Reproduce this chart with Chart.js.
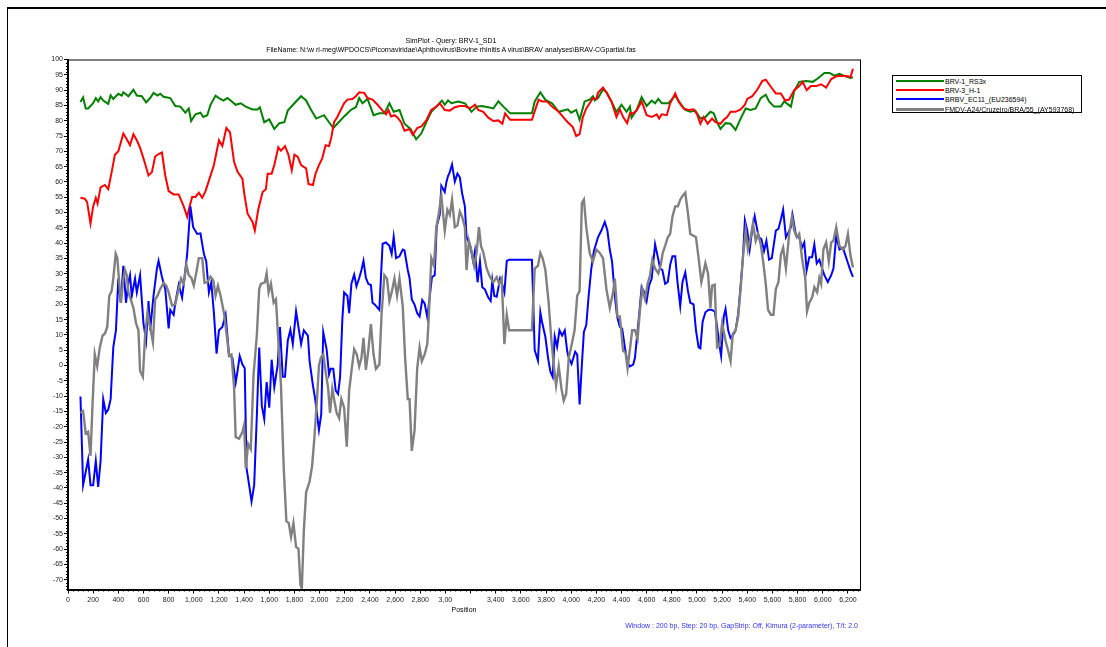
<!DOCTYPE html>
<html>
<head>
<meta charset="utf-8">
<title>SimPlot - Query: BRV-1_SD1</title>
<script src="https://cdn.jsdelivr.net/npm/chart.js@4.4.1/dist/chart.umd.min.js"></script>
<style>
  body { margin: 0; background: #fff; font-family: "Liberation Sans", Arial, sans-serif; }
  #wrap { position: relative; width: 1106px; height: 647px; overflow: hidden; background: #fff; }
  #frame { position: absolute; left: 7px; top: 7px; width: 1120px; height: 660px; border-top: 2px solid #000; border-left: 1px solid #000; }
  #chart { position: absolute; left: 0; top: 0; }
  .txt { position: absolute; white-space: nowrap; font-size: 7px; line-height: 8px; color: #000; }
  .mid { transform: translateX(-50%); }
  #legend { position: absolute; left: 892px; top: 75px; width: 190px; height: 38px; border: 1px solid #000; box-sizing: border-box; background: #fff; }
  .row { position: absolute; left: 0; height: 9px; width: 188px; }
  .row i { position: absolute; left: 3px; top: 3px; width: 48px; height: 2px; }
  .row span { position: absolute; left: 52px; top: 0; font-size: 7px; line-height: 9px; color: #000; white-space: nowrap; }
</style>
</head>
<body>
<div id="wrap">
  <div id="frame"></div>
  <canvas id="chart" width="1106" height="647"></canvas>
  <div class="txt mid" style="left:451px; top:37px;">SimPlot - Query: BRV-1_SD1</div>
  <div class="txt mid" style="left:451px; top:46px;">FileName: N:\w rl-meg\WPDOCS\Picornaviridae\Aphthovirus\Bovine rhinitis A virus\BRAV analyses\BRAV-CGpartial.fas</div>
  <div class="txt mid" style="left:464px; top:606px;">Position</div>
  <div class="txt" style="right:248px; top:622px; color:#3333ff;">Window : 200 bp, Step: 20 bp, GapStrip: Off, Kimura (2-parameter), T/t: 2.0</div>
  <div id="legend"></div>
</div>
<script>
// series names and colours (legend order)
const seriesNames = ['BRV-1_RS3x', 'BRV-3_H-1', 'BRBV_EC11_(EU236594)', 'FMDV-A24/Cruzeiro/BRA/55_(AY593768)'];
const seriesColors = ['#008000', '#ff0000', '#0000ff', '#808080'];

// BRV-1_RS3x
const rs3xPos = [99,120,141,160,200,221,240,259,280,320,339,360,400,427,440,480,520,547,587,621,653,680,712,733,760,813,853,893,933,960,979,1013,1053,1075,1107,1133,1173,1200,1235,1267,1293,1333,1373,1413,1467,1507,1525,1560,1600,1640,1680,1720,1747,1800,1853,1893,1933,1973,2035,2075,2109,2141,2195,2248,2288,2315,2341,2381,2429,2475,2515,2555,2589,2635,2675,2723,2768,2808,2848,2888,2928,2973,2995,3021,3048,3101,3155,3208,3248,3288,3341,3381,3421,3461,3515,3688,3710,3755,3795,3848,3901,3973,4000,4040,4067,4107,4147,4173,4187,4213,4253,4280,4320,4360,4400,4440,4467,4480,4520,4560,4600,4640,4667,4693,4720,4773,4827,4867,4907,4947,4987,5027,5067,5107,5133,5160,5187,5227,5267,5307,5347,5387,5427,5467,5507,5547,5573,5613,5667,5693,5747,5773,5813,5867,5920,5960,6013,6053,6093,6133,6180,6220,6240];
const rs3xSim = [86.1,87.6,84.0,84.0,85.7,87.4,86.3,87.7,86.6,85.5,88.3,87.1,88.8,88.2,89.3,88.0,90.1,88.2,88.0,86.0,87.4,89.1,88.2,88.8,87.8,87.4,84.8,84.6,82.6,84.0,79.9,82.1,82.6,81.2,81.8,85.2,88.2,87.4,86.6,87.4,86.6,85.2,85.7,84.6,83.7,83.7,84.4,79.5,80.4,77.3,79.2,79.5,83.3,85.7,88.0,86.6,83.5,80.7,81.8,79.5,77.6,79.0,81.4,83.5,84.4,87.4,85.7,87.1,81.8,82.4,82.4,85.7,82.9,83.5,79.0,77.3,73.9,75.8,79.5,82.9,84.6,86.6,85.2,86.6,85.7,86.3,85.7,82.9,84.6,84.8,84.4,84.0,86.3,84.6,82.4,82.4,86.3,89.3,86.8,85.7,82.9,83.7,82.6,83.5,80.3,86.3,86.9,88.0,86.6,87.4,90.2,89.3,86.3,82.9,85.2,82.9,84.6,81.0,83.5,87.7,84.8,86.6,85.7,87.1,85.7,85.7,88.2,85.7,83.5,82.9,83.3,80.7,81.2,82.9,82.4,79.5,77.3,79.2,79.0,77.0,80.7,84.0,83.5,84.0,87.4,88.5,86.3,84.6,84.6,86.3,84.6,89.7,92.7,93.0,92.7,93.8,95.6,95.6,94.7,95.3,94.5,94.0,94.2];

// BRV-3_H-1
const h1Pos = [99,133,152,179,200,221,235,259,293,320,347,373,400,440,467,493,520,547,573,600,640,667,693,720,747,773,800,840,880,920,947,960,987,1013,1040,1067,1093,1120,1160,1200,1227,1259,1288,1320,1347,1387,1400,1427,1467,1485,1512,1547,1573,1587,1619,1640,1672,1693,1725,1752,1779,1800,1827,1853,1893,1912,1947,1968,1995,2021,2048,2075,2093,2115,2141,2168,2195,2221,2261,2288,2315,2355,2381,2421,2461,2501,2528,2547,2568,2595,2621,2648,2675,2715,2741,2776,2808,2848,2888,2928,2955,2995,3035,3075,3115,3155,3195,3235,3261,3301,3341,3381,3421,3453,3475,3515,3688,3715,3741,3768,3808,3848,3901,3947,3973,4013,4040,4067,4093,4120,4147,4173,4200,4213,4253,4280,4320,4360,4387,4413,4445,4467,4493,4520,4560,4600,4640,4680,4699,4720,4760,4787,4827,4853,4893,4933,4973,5000,5027,5053,5085,5120,5147,5187,5213,5240,5267,5307,5347,5381,5400,5440,5480,5520,5547,5587,5627,5667,5701,5733,5773,5813,5840,5872,5907,5947,5987,6027,6067,6107,6155,6200,6220,6240];
const h1Sim = [54.8,54.5,53.4,46.4,52.0,54.8,52.9,58.2,59.0,57.6,63.2,68.9,70.0,75.8,73.9,72.0,75.6,73.6,71.1,67.7,62.1,63.2,68.3,69.1,69.6,62.1,57.0,55.9,55.9,52.0,48.6,50.9,55.1,55.1,56.5,54.8,57.0,60.4,65.5,73.6,71.7,77.6,76.2,66.6,63.4,61.0,56.5,49.7,46.9,44.1,50.9,56.7,57.6,62.7,62.7,65.5,71.3,70.2,71.7,68.9,63.8,68.9,68.2,65.5,64.4,59.3,59.0,62.7,65.5,67.7,72.0,71.7,74.5,79.5,81.2,83.5,85.7,86.9,87.1,88.0,89.3,89.1,87.4,86.9,85.2,83.3,82.1,83.5,81.4,81.8,81.0,79.5,76.7,77.3,75.4,77.6,78.1,80.1,83.5,84.6,85.7,83.5,83.3,84.4,84.8,84.8,84.0,85.2,83.5,82.9,81.0,79.9,80.1,79.0,82.4,80.3,80.3,83.7,86.9,86.3,86.3,84.6,82.9,80.7,79.5,77.9,75.0,75.6,81.2,84.0,85.7,87.4,87.1,89.1,90.8,89.3,86.3,81.2,83.7,81.2,79.2,82.4,82.4,83.3,86.3,81.8,81.2,82.1,80.7,82.1,81.8,85.7,88.9,86.3,84.0,83.5,83.7,82.1,79.0,81.2,79.0,80.7,79.5,79.0,80.3,81.2,82.9,82.9,83.7,85.2,87.1,88.0,90.2,93.0,93.4,91.1,88.9,88.9,86.6,86.9,90.0,91.3,92.7,90.0,91.3,91.3,91.9,90.8,93.6,94.5,94.7,94.5,94.2,97.0];

// BRBV_EC11_(EU236594)
const ec11Pos = [99,120,160,179,200,221,240,259,280,301,320,339,360,381,400,419,440,461,480,493,507,533,547,573,600,621,640,653,680,707,720,747,773,800,813,840,853,880,907,925,947,973,995,1027,1053,1080,1099,1120,1139,1160,1181,1200,1227,1253,1280,1307,1333,1347,1365,1387,1405,1419,1440,1459,1480,1501,1520,1541,1560,1579,1600,1619,1640,1667,1685,1707,1725,1747,1768,1787,1813,1832,1853,1875,1907,1920,1947,1965,1995,2013,2029,2056,2075,2088,2109,2128,2147,2163,2181,2195,2221,2235,2253,2275,2293,2315,2333,2349,2368,2387,2408,2421,2440,2475,2501,2528,2555,2573,2589,2608,2635,2661,2675,2701,2715,2733,2755,2776,2795,2816,2835,2856,2875,2893,2915,2931,2955,2968,2995,3008,3021,3035,3053,3075,3096,3115,3133,3155,3168,3195,3221,3235,3256,3275,3293,3315,3341,3360,3373,3389,3408,3435,3453,3469,3488,3507,3688,3710,3736,3755,3768,3795,3816,3835,3853,3869,3888,3907,3928,3949,3968,3981,4003,4032,4048,4067,4085,4101,4120,4139,4160,4181,4213,4240,4267,4288,4307,4325,4347,4365,4387,4405,4427,4448,4467,4493,4507,4539,4560,4581,4600,4619,4640,4667,4693,4707,4725,4747,4768,4787,4805,4827,4845,4867,4885,4907,4928,4947,4973,4992,5013,5027,5045,5067,5093,5115,5141,5160,5179,5192,5213,5227,5248,5267,5285,5307,5328,5347,5365,5381,5400,5419,5440,5459,5480,5493,5512,5533,5552,5573,5595,5627,5648,5667,5685,5707,5728,5747,5760,5787,5813,5835,5853,5872,5893,5915,5933,5952,5973,5995,6013,6040,6067,6085,6107,6133,6160,6180,6200,6220,6240];
const ec11Sim = [-10.1,-39.1,-30.7,-39.1,-39.1,-31.2,-39.7,-31.2,-11.0,-15.5,-14.4,-11.0,5.9,11.5,28.4,20.5,32.6,20.5,27.2,29.5,22.7,28.4,23.9,29.5,13.8,8.1,21.1,11.5,22.8,31.7,34.2,28.9,25.0,12.1,18.2,16.6,20.5,26.4,22.2,28.4,36.2,52.0,45.2,43.0,43.2,36.5,34.0,23.9,27.2,17.1,3.9,11.5,12.6,16.6,3.6,2.5,-5.6,-2.0,3.1,0.3,-0.9,-33.5,-39.1,-44.4,-39.1,-16.6,5.9,-13.2,-17.5,-5.4,-13.8,1.9,-7.1,0.2,12.6,-3.7,-3.7,8.1,11.7,7.0,17.7,12.6,7.0,11.5,9.8,1.6,-6.5,-11.0,-21.1,-16.0,10.9,5.3,-2.9,-1.1,-1.1,-8.2,-9.3,-3.7,15.1,23.9,22.7,17.1,26.7,29.7,25.9,28.6,31.2,34.2,28.6,26.7,26.3,20.5,19.9,18.2,39.8,40.2,39.1,36.5,42.1,35.1,35.7,37.9,37.6,31.2,28.6,21.6,19.9,17.1,16.0,21.4,20.3,15.8,22.2,28.9,29.5,45.5,49.2,58.7,56.7,59.9,61.9,63.2,65.7,60.1,62.7,61.5,56.3,52.0,41.9,39.6,34.0,37.4,27.2,34.0,25.6,24.8,22.2,21.1,27.8,22.7,22.5,28.4,26.3,23.9,34.2,34.6,34.6,5.0,1.6,17.4,14.3,9.3,2.5,-2.0,-3.7,9.5,6.1,11.5,9.8,11.5,4.8,2.5,0.5,4.5,3.6,-12.7,0.3,11.0,13.2,22.8,31.7,37.4,41.9,44.1,46.9,44.1,37.9,34.0,22.7,16.0,12.6,12.1,5.9,0.8,-0.3,0.3,2.5,16.0,25.6,23.9,21.1,26.1,28.4,39.6,34.6,31.7,31.2,26.7,27.3,32.9,35.7,35.7,27.3,19.4,27.3,30.4,24.4,20.5,20.0,11.5,5.9,5.6,14.3,17.4,18.2,18.2,17.7,12.6,6.4,3.1,16.0,18.5,11.5,9.0,9.8,11.5,17.1,26.1,35.1,47.5,44.1,37.9,44.7,48.8,44.1,41.9,41.3,37.4,40.8,34.6,35.1,44.1,44.7,47.7,50.9,41.9,43.6,45.2,49.2,42.4,41.9,38.5,40.2,31.2,35.4,35.4,39.6,33.4,34.6,31.7,29.5,27.3,29.5,31.7,42.4,37.9,38.5,36.0,33.5,31.0,29.0];

// FMDV-A24/Cruzeiro/BRA/55_(AY593768)
const fmdvPos = [99,120,141,160,179,195,213,232,253,275,293,312,328,347,360,379,392,408,421,440,453,467,480,499,520,541,560,573,595,613,632,653,675,693,712,733,760,781,800,827,853,880,899,920,941,960,981,1000,1021,1040,1067,1085,1107,1133,1155,1173,1192,1213,1240,1267,1280,1299,1320,1333,1360,1387,1400,1413,1432,1453,1475,1501,1520,1533,1565,1579,1595,1613,1635,1653,1672,1693,1715,1736,1755,1773,1792,1813,1832,1848,1859,1875,1893,1920,1940,1958,1978,1995,2010,2029,2048,2067,2083,2101,2120,2136,2155,2173,2195,2216,2235,2253,2275,2296,2315,2333,2349,2368,2387,2408,2429,2448,2475,2493,2515,2536,2555,2573,2595,2616,2635,2661,2680,2701,2715,2733,2755,2776,2795,2813,2835,2856,2867,2888,2909,2928,2947,2968,2995,3016,3035,3053,3075,3096,3115,3133,3155,3168,3187,3208,3229,3248,3267,3283,3301,3328,3355,3381,3408,3427,3448,3469,3488,3507,3688,3710,3736,3755,3773,3795,3821,3843,3861,3880,3901,3923,3941,3960,3981,4005,4027,4048,4067,4085,4101,4120,4147,4173,4200,4227,4253,4280,4307,4333,4347,4368,4387,4413,4432,4448,4467,4485,4507,4528,4547,4565,4587,4608,4627,4645,4667,4693,4712,4728,4747,4768,4787,4805,4827,4848,4867,4885,4907,4928,4947,4973,4992,5013,5035,5053,5067,5088,5107,5120,5141,5160,5179,5200,5227,5248,5267,5285,5307,5328,5347,5365,5387,5405,5427,5445,5467,5485,5507,5528,5547,5565,5587,5608,5627,5648,5667,5685,5707,5733,5755,5773,5795,5813,5835,5861,5875,5893,5915,5933,5955,5973,5987,6005,6027,6048,6067,6085,6107,6133,6160,6180,6200,6220,6240];
const fmdvSim = [-15.5,-14.9,-22.2,-21.7,-29.5,-12.7,3.6,-0.3,5.9,9.8,10.4,12.6,22.7,24.4,28.4,36.5,35.1,26.7,20.5,28.4,31.2,29.5,23.9,21.6,18.8,13.8,11.5,-1.8,-3.7,9.8,17.4,12.6,7.6,21.6,22.8,25.0,27.0,26.1,23.9,19.6,20.0,25.0,28.4,26.7,32.9,29.5,28.6,26.1,30.6,35.1,35.1,27.0,27.2,29.0,27.8,22.8,26.1,22.8,17.1,8.1,3.1,3.6,-7.1,-23.4,-23.9,-21.7,-19.4,-33.5,-25.6,-27.3,-3.1,9.8,25.0,26.7,27.2,30.1,23.9,26.7,20.5,21.6,8.1,-6.5,-33.5,-50.9,-51.5,-56.0,-51.5,-59.3,-59.9,-71.7,-72.8,-53.7,-41.4,-38.0,-33.0,-24.0,-12.0,0.0,2.5,3.6,-2.0,-7.1,-15.5,-7.6,-12.1,-15.5,-17.2,-11.0,-13.8,-26.5,-8.2,-2.0,5.3,3.6,-0.3,2.5,9.0,-1.4,4.8,13.5,3.6,-1.1,0.3,16.9,29.5,28.4,21.1,23.9,28.4,22.8,28.4,19.4,2.5,-11.0,-11.0,-27.9,-21.1,-0.9,5.9,1.4,3.6,7.0,14.9,35.1,32.6,45.2,49.5,55.4,44.1,50.9,49.2,54.2,45.2,45.8,50.3,48.6,45.2,31.2,40.7,37.4,32.6,36.8,45.2,39.1,37.1,31.7,28.9,27.2,28.9,26.7,28.4,7.0,16.6,11.5,11.5,31.7,32.6,36.8,35.1,31.2,20.5,8.1,0.3,-6.5,-0.3,-7.6,-11.5,-9.3,2.5,7.0,11.5,22.8,24.4,53.1,54.2,45.2,36.8,34.0,37.9,36.8,35.1,25.0,18.8,23.9,28.4,16.0,16.0,4.8,4.2,-0.9,5.3,11.5,11.5,8.7,18.2,25.0,21.6,26.7,29.5,34.6,31.7,30.1,32.9,36.8,39.1,41.9,43.0,48.6,52.0,52.0,54.2,55.4,56.5,49.8,43.0,42.4,41.9,35.1,27.3,30.6,33.4,30.1,18.8,26.1,26.4,5.9,6.4,13.8,8.1,4.8,1.4,10.4,11.5,16.0,25.0,35.1,44.1,37.9,41.9,46.4,40.7,43.0,39.6,33.4,26.7,18.2,16.6,16.6,25.0,27.3,36.2,38.5,31.7,43.0,48.6,44.1,41.9,43.0,35.1,28.4,17.7,20.5,22.2,25.6,23.9,28.6,26.7,37.9,40.2,34.0,40.2,40.8,45.2,39.1,37.9,39.0,43.0,36.0,32.0];

// axis ticks
const xTickValues = [0,200,400,600,800,1000,1200,1400,1600,1800,2000,2200,2400,2600,2800,3000,3200,3400,3600,3800,4000,4200,4400,4600,4800,5000,5200,5400,5600,5800,6000,6200];
const xTickLabels = ['0','200','400','600','800','1,000','1,200','1,400','1,600','1,800','2,000','2,200','2,400','2,600','2,800','3,00','','3,400','3,600','3,800','4,000','4,200','4,400','4,600','4,800','5,000','5,200','5,400','5,600','5,800','6,000','6,200'];
const yTickValues = [-70,-65,-60,-55,-50,-45,-40,-35,-30,-25,-20,-15,-10,-5,0,5,10,15,20,25,30,35,40,45,50,55,60,65,70,75,80,85,90,95,100];

const seriesPos = [rs3xPos, h1Pos, ec11Pos, fmdvPos];
const seriesSim = [rs3xSim, h1Sim, ec11Sim, fmdvSim];

// legend
const legend = document.getElementById('legend');
seriesNames.forEach((name, i) => {
  const row = document.createElement('div');
  row.className = 'row';
  row.style.top = (1 + i * 9.2) + 'px';
  row.innerHTML = '<i style="background:' + seriesColors[i] + (i === 3 ? ';height:3px' : '') + '"></i><span></span>';
  row.querySelector('span').textContent = name;
  legend.appendChild(row);
});

// frame of the plot area + minor ticks
const plotFrame = {
  id: 'plotFrame',
  afterDraw(chart) {
    const { ctx, chartArea: a, scales: { x, y } } = chart;
    ctx.save();
    ctx.strokeStyle = '#000';
    ctx.lineWidth = 1;
    ctx.strokeRect(a.left + 0.5, a.top + 0.5, a.right - a.left - 0.5, a.bottom - a.top);
    ctx.beginPath();
    for (let v = -73; v <= 100; v++) {
      if (v % 5 === 0) continue;
      const py = Math.round(y.getPixelForValue(v)) + 0.5;
      ctx.moveTo(a.left - 2, py);
      ctx.lineTo(a.left, py);
    }
    for (let v = 40; v < 6300; v += 40) {
      if (v % 200 === 0) continue;
      const px = Math.round(x.getPixelForValue(v)) + 0.5;
      ctx.moveTo(px, a.bottom);
      ctx.lineTo(px, a.bottom + 2);
    }
    ctx.stroke();
    ctx.restore();
  }
};

const tickFont = { family: '"Liberation Sans", Arial, sans-serif', size: 7 };

new Chart(document.getElementById('chart'), {
  type: 'line',
  data: {
    datasets: seriesNames.map((name, i) => ({
      label: name,
      data: seriesPos[i].map((p, j) => ({ x: p, y: seriesSim[i][j] })),
      borderColor: seriesColors[i],
      borderWidth: i === 3 ? 2.4 : 2,
      pointRadius: 0,
      tension: 0,
      fill: false,
      order: 4 - i
    }))
  },
  options: {
    responsive: false,
    animation: false,
    devicePixelRatio: 1,
    layout: { padding: { left: 38, top: 59.5, right: 245.5, bottom: 37.5 } },
    plugins: { legend: { display: false }, tooltip: { enabled: false } },
    scales: {
      x: {
        type: 'linear',
        min: 0,
        max: 6300,
        afterBuildTicks: (scale) => { scale.ticks = xTickValues.map(v => ({ value: v })); },
        afterFit: (scale) => { scale.height = 20; },
        border: { color: '#000', width: 2 },
        grid: { drawOnChartArea: false, color: '#000', tickLength: 4, tickWidth: 1 },
        ticks: {
          autoSkip: false, maxRotation: 0, padding: 2, color: '#222', font: tickFont,
          callback: (value, index) => xTickLabels[index]
        }
      },
      y: {
        min: -73.2,
        max: 100,
        afterBuildTicks: (scale) => { scale.ticks = yTickValues.map(v => ({ value: v })); },
        afterFit: (scale) => { scale.width = 30; },
        border: { color: '#000', width: 2 },
        grid: { drawOnChartArea: false, color: '#000', tickLength: 4, tickWidth: 1 },
        ticks: {
          autoSkip: false, padding: 1, color: '#222', font: tickFont,
          callback: (value) => String(value)
        }
      }
    }
  },
  plugins: [plotFrame]
});
</script>
</body>
</html>
